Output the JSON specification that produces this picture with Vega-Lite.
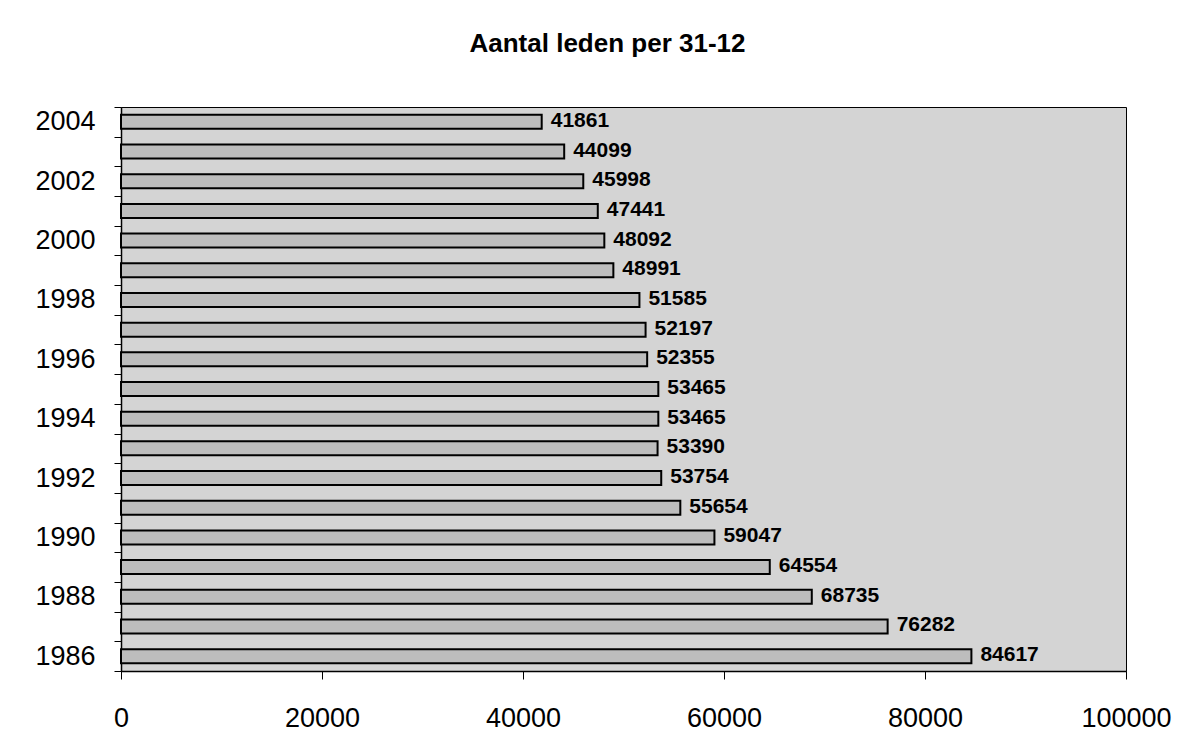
{
  "$schema": "https://vega.github.io/schema/vega-lite/v6.json",
  "autosize": "none",
  "width": 1005,
  "height": 564,
  "padding": {"left": 121, "top": 107, "right": 69, "bottom": 85},
  "background": "white",
  "title": {
    "text": "Aantal leden per 31-12",
    "font": "Liberation Sans",
    "fontSize": 26,
    "fontWeight": "bold",
    "color": "black",
    "anchor": "middle",
    "dx": -16,
    "offset": 36
  },
  "config": {
    "view": {"stroke": "black", "strokeWidth": 1, "fill": "#d4d4d4"},
    "axis": {"labelFont": "Liberation Sans", "labelColor": "black", "domainColor": "black", "tickColor": "black", "grid": false}
  },
  "data": {
    "values": [
      {"year": 1986, "leden": 84617},
      {"year": 1987, "leden": 76282},
      {"year": 1988, "leden": 68735},
      {"year": 1989, "leden": 64554},
      {"year": 1990, "leden": 59047},
      {"year": 1991, "leden": 55654},
      {"year": 1992, "leden": 53754},
      {"year": 1993, "leden": 53390},
      {"year": 1994, "leden": 53465},
      {"year": 1995, "leden": 53465},
      {"year": 1996, "leden": 52355},
      {"year": 1997, "leden": 52197},
      {"year": 1998, "leden": 51585},
      {"year": 1999, "leden": 48991},
      {"year": 2000, "leden": 48092},
      {"year": 2001, "leden": 47441},
      {"year": 2002, "leden": 45998},
      {"year": 2003, "leden": 44099},
      {"year": 2004, "leden": 41861}
    ]
  },
  "encoding": {
    "y": {
      "field": "year",
      "type": "ordinal",
      "sort": "descending",
      "scale": {"paddingInner": 0, "paddingOuter": 0},
      "axis": {
        "title": null,
        "tickBand": "extent",
        "tickSize": 7,
        "labelPadding": 19,
        "labelFontSize": 27,
        "labelExpr": "datum.value % 2 == 0 ? datum.label : ''",
        "domainWidth": 1.5
      }
    },
    "x": {
      "field": "leden",
      "type": "quantitative",
      "scale": {"domain": [0, 100000], "nice": false},
      "axis": {
        "title": null,
        "values": [0, 20000, 40000, 60000, 80000, 100000],
        "format": "d",
        "tickSize": 8,
        "labelPadding": 26,
        "labelFlush": false,
        "labelFontSize": 27,
        "domainWidth": 1.5
      }
    }
  },
  "layer": [
    {
      "mark": {"type": "bar", "size": 14, "fill": "#bdbdbd", "stroke": "black", "strokeWidth": 2}
    },
    {
      "mark": {"type": "text", "align": "left", "baseline": "middle", "dx": 9, "dy": -1, "font": "Liberation Sans", "fontSize": 21, "fontWeight": "bold", "color": "black"},
      "encoding": {"text": {"field": "leden", "type": "quantitative", "format": "d"}}
    }
  ]
}
